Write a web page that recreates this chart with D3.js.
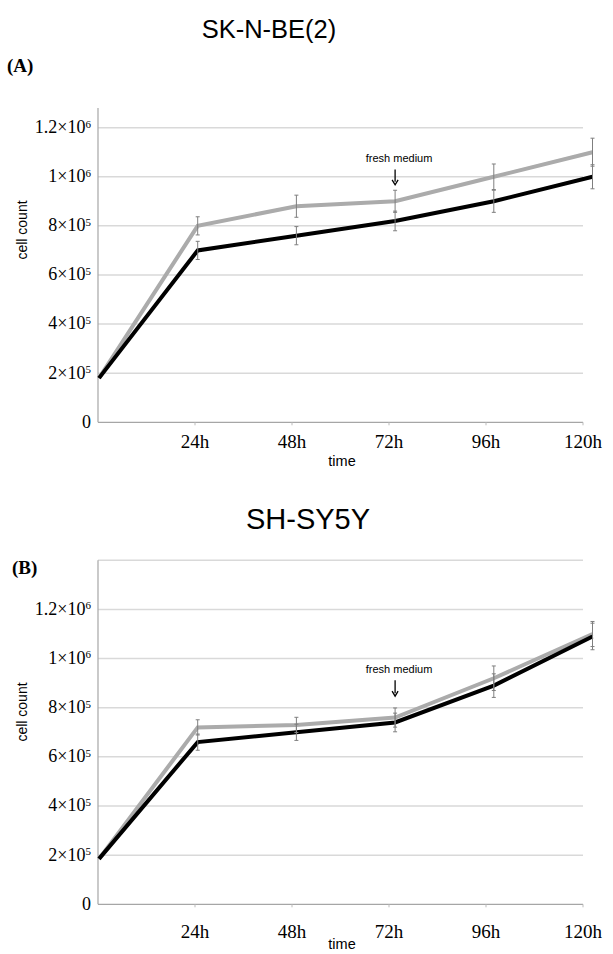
<!DOCTYPE html>
<html>
<head>
<meta charset="utf-8">
<script src="https://cdn.jsdelivr.net/npm/d3@7"></script>
<style>
  body { margin: 0; background: #fff; }
  svg { display: block; }
</style>
</head>
<body>
<div id="chart"></div>
<script>
'use strict';

// time points (hours)
var hours = [0, 24, 48, 72, 96, 120];
var tickHours = [24, 48, 72, 96, 120];
var tickLabels = ["24h", "48h", "72h", "96h", "120h"];
var yTicks = [0, 2e5, 4e5, 6e5, 8e5, 1e6, 1.2e6];

// SK-N-BE(2)
var skGrey = [1.8e5, 8.0e5, 8.8e5, 9.0e5, 1.0e6, 1.1e6];
var skGreyErr = [0, 3.7e4, 4.5e4, 4.5e4, 5.2e4, 5.7e4];
var skBlack = [1.8e5, 7.0e5, 7.6e5, 8.2e5, 9.0e5, 1.0e6];
var skBlackErr = [0, 3.7e4, 3.7e4, 4.0e4, 4.5e4, 4.9e4];

// SH-SY5Y
var shGrey = [1.85e5, 7.2e5, 7.3e5, 7.6e5, 9.2e5, 1.1e6];
var shGreyErr = [0, 3.1e4, 3.1e4, 3.9e4, 5.0e4, 5.1e4];
var shBlack = [1.85e5, 6.6e5, 7.0e5, 7.4e5, 8.9e5, 1.09e6];
var shBlackErr = [0, 3.3e4, 3.3e4, 3.8e4, 4.8e4, 5.4e4];

var serif = "'Liberation Serif', 'Times New Roman', serif";
var sans = "'Liberation Sans', Arial, sans-serif";

var svg = d3.select("#chart").append("svg")
  .attr("width", 613)
  .attr("height", 954);

function drawPanel(p) {
  var g = svg.append("g");

  // axis positions and data positions do not line up exactly in the original
  var xAxisScale = d3.scaleLinear().domain([0, 120]).range([98, 583]);
  var xData = d3.scaleLinear().domain([0, 120]).range([99, 592.5]);
  var y = d3.scaleLinear().domain([0, p.yMax]).range([p.y0, p.yTop]);

  // title + panel letter
  g.append("text")
    .attr("x", p.titleX).attr("y", p.titleY)
    .attr("text-anchor", "middle")
    .style("font-family", sans).style("font-size", p.titleSize + "px")
    .text(p.title);
  g.append("text")
    .attr("x", p.letterX).attr("y", p.letterY)
    .style("font-family", serif).style("font-size", "19px").style("font-weight", "bold")
    .text(p.letter);

  // gridlines
  g.append("g").selectAll("line")
    .data(p.grid)
    .enter().append("line")
    .attr("x1", 98).attr("x2", 583)
    .attr("y1", function (d) { return y(d); })
    .attr("y2", function (d) { return y(d); })
    .style("stroke", "#d9d9d9").style("stroke-width", 1.5);

  // y axis
  g.append("line")
    .attr("x1", 98).attr("x2", 98)
    .attr("y1", y(p.yMax)).attr("y2", y(0))
    .style("stroke", "#a6a6a6").style("stroke-width", 1.2);

  var yl = g.append("g").selectAll("text")
    .data(yTicks)
    .enter().append("text")
    .attr("x", 91)
    .attr("y", function (d) { return y(d); })
    .attr("dy", "0.3em")
    .attr("text-anchor", "end")
    .style("font-family", serif).style("font-size", "18px");
  yl.each(function (d) {
    var t = d3.select(this);
    if (d === 0) { t.text("0"); return; }
    var e = Math.floor(Math.log10(d) + 1e-9);
    var m = +(d / Math.pow(10, e)).toFixed(1);
    t.append("tspan").text(m + "\u00d710");
    t.append("tspan").attr("dy", "-0.5em").style("font-size", "11px").text(e);
  });

  // x axis
  g.append("line")
    .attr("x1", 98).attr("x2", 583)
    .attr("y1", y(0)).attr("y2", y(0))
    .style("stroke", "#a6a6a6").style("stroke-width", 1.2);
  g.append("g").selectAll("line")
    .data(tickHours)
    .enter().append("line")
    .attr("x1", function (d) { return xAxisScale(d); })
    .attr("x2", function (d) { return xAxisScale(d); })
    .attr("y1", y(0)).attr("y2", y(0) + 3)
    .style("stroke", "#bbb").style("stroke-width", 1);
  g.append("g").selectAll("text")
    .data(tickHours)
    .enter().append("text")
    .attr("x", function (d) { return xAxisScale(d); })
    .attr("y", p.xLabelY)
    .attr("text-anchor", "middle")
    .style("font-family", serif).style("font-size", "19px")
    .text(function (d, i) { return tickLabels[i]; });

  // axis titles
  g.append("text")
    .attr("transform", "translate(27," + p.cellY + ") rotate(-90)")
    .attr("text-anchor", "middle")
    .style("font-family", sans).style("font-size", "14px")
    .text("cell count");
  g.append("text")
    .attr("x", 342).attr("y", p.timeY)
    .attr("text-anchor", "middle")
    .style("font-family", sans).style("font-size", "14.5px")
    .text("time");

  // lines
  var line = d3.line()
    .x(function (d, i) { return xData(hours[i]); })
    .y(function (d) { return y(d); });
  var series = [
    { v: p.grey, err: p.greyErr, color: "#ababab" },
    { v: p.black, err: p.blackErr, color: "#000" }
  ];
  series.forEach(function (s) {
    g.append("path")
      .datum(s.v)
      .attr("d", line)
      .style("fill", "none")
      .style("stroke", s.color)
      .style("stroke-width", 4)
      .style("stroke-linejoin", "miter");
  });

  // error bars
  series.forEach(function (s) {
    var idx = d3.range(1, hours.length);
    var eb = g.append("g").selectAll("g")
      .data(idx)
      .enter().append("g")
      .style("stroke", "#7f7f7f").style("stroke-width", 1);
    eb.append("line")
      .attr("x1", function (i) { return xData(hours[i]); })
      .attr("x2", function (i) { return xData(hours[i]); })
      .attr("y1", function (i) { return y(s.v[i] + s.err[i]); })
      .attr("y2", function (i) { return y(s.v[i] - s.err[i]); });
    [1, -1].forEach(function (sign) {
      eb.append("line")
        .attr("x1", function (i) { return xData(hours[i]) - 2; })
        .attr("x2", function (i) { return xData(hours[i]) + 2; })
        .attr("y1", function (i) { return y(s.v[i] + sign * s.err[i]); })
        .attr("y2", function (i) { return y(s.v[i] + sign * s.err[i]); });
    });
  });

  // fresh medium annotation
  var ax = xData(72);
  g.append("text")
    .attr("x", ax + 4).attr("y", y(p.noteText))
    .attr("text-anchor", "middle")
    .style("font-family", sans).style("font-size", "11px")
    .text("fresh medium");
  g.append("line")
    .attr("x1", ax).attr("x2", ax)
    .attr("y1", y(p.noteTop)).attr("y2", y(p.noteTip) - 3)
    .style("stroke", "#000").style("stroke-width", 1.3);
  g.append("path")
    .attr("d", "M" + (ax - 3) + "," + (y(p.noteTip) - 5) + "L" + ax + "," + y(p.noteTip) +
      "L" + (ax + 3) + "," + (y(p.noteTip) - 5))
    .style("fill", "none").style("stroke", "#000").style("stroke-width", 1.3);
}

drawPanel({
  title: "SK-N-BE(2)", titleX: 269, titleY: 38, titleSize: 25.5,
  letter: "(A)", letterX: 7, letterY: 72,
  yMax: 1.28e6, y0: 422.3, yTop: 108,
  grid: [2e5, 4e5, 6e5, 8e5, 1e6, 1.2e6],
  xLabelY: 448, timeY: 466, cellY: 230,
  grey: skGrey, greyErr: skGreyErr, black: skBlack, blackErr: skBlackErr,
  noteText: 1.061e6, noteTop: 1.03e6, noteTip: 9.67e5
});

drawPanel({
  title: "SH-SY5Y", titleX: 308, titleY: 529, titleSize: 29,
  letter: "(B)", letterX: 12, letterY: 574,
  yMax: 1.4e6, y0: 904.3, yTop: 560.3,
  grid: [2e5, 4e5, 6e5, 8e5, 1e6, 1.2e6, 1.4e6],
  xLabelY: 938, timeY: 949, cellY: 712,
  grey: shGrey, greyErr: shGreyErr, black: shBlack, blackErr: shBlackErr,
  noteText: 9.41e5, noteTop: 9.12e5, noteTip: 8.47e5
});
</script>
</body>
</html>
